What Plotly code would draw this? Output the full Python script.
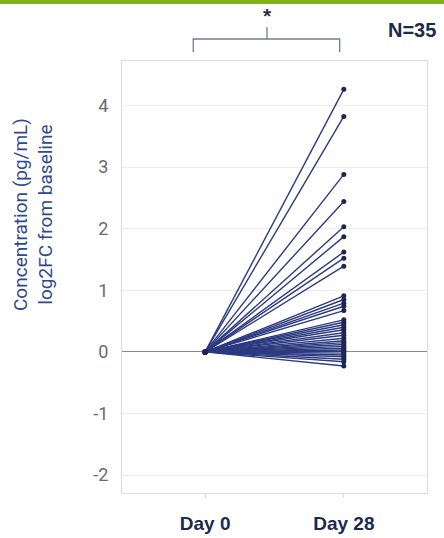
import plotly.graph_objects as go

# Timepoints and per-subject log2 fold change from baseline (Day 0 = 0)
timepoints = ["Day 0", "Day 28"]
day0_values = [0.0] * 35
day28_values = [4.26, 3.82, 2.88, 2.44, 2.03, 1.87, 1.62, 1.52, 1.39,
                0.91, 0.85, 0.79, 0.74, 0.67, 0.52, 0.48, 0.44, 0.40,
                0.36, 0.31, 0.27, 0.22, 0.18, 0.15, 0.12, 0.09, 0.06,
                0.03, 0.01, -0.02, -0.05, -0.08, -0.12, -0.16, -0.23]
y_ticks = [-2, -1, 0, 1, 2, 3, 4]
y_tick_labels = ["-2", "-1", "0", "1", "2", "3", "4"]
n_label = "N=35"

# Build one connected segment per subject, separated by gaps
xs, ys = [], []
for a, b in zip(day0_values, day28_values):
    xs += [timepoints[0], timepoints[1], None]
    ys += [a, b, None]

fig = go.Figure()
fig.add_trace(go.Scatter(
    x=xs, y=ys, mode="lines+markers",
    line=dict(color="#2c3a80", width=1.4),
    marker=dict(color="#1f2550", size=5),
    connectgaps=False, showlegend=False, hoverinfo="skip",
))

W, H = 444, 538
ml, mr, mt, mb = 122, 17, 61, 45
pw, ph = W - ml - mr, H - mt - mb

def px_to_paper_x(px):
    return (px - ml) / pw

def px_to_paper_y(py):
    return (H - mb - py) / ph

fig.update_layout(
    width=W, height=H,
    margin=dict(l=ml, r=mr, t=mt, b=mb, autoexpand=False),
    plot_bgcolor="white", paper_bgcolor="white",
    font=dict(family="Roboto, sans-serif"),
    xaxis=dict(
        type="category", categoryorder="array", categoryarray=timepoints,
        range=[-0.6, 1.6], showgrid=False, zeroline=False, automargin=False,
        showline=True, linecolor="#dcdcdc", linewidth=1, mirror=True,
        ticks="outside", ticklen=4, tickcolor="#dcdcdc",
        tickfont=dict(family="Liberation Sans, Arial, sans-serif",
                      size=19, color="#1b2a4e", weight="bold"),
        ticklabelstandoff=9,
    ),
    yaxis=dict(
        range=[-2.29, 4.72], tickvals=y_ticks, ticktext=y_tick_labels,
        automargin=False,
        showgrid=True, gridcolor="#ececec", gridwidth=1,
        zeroline=True, zerolinecolor="#8a8a8a", zerolinewidth=1.2,
        showline=True, linecolor="#dcdcdc", linewidth=1, mirror=True,
        tickfont=dict(size=18, color="#6a6a6a"),
        ticklabelstandoff=9,
    ),
    shapes=[
        # green band across the top
        dict(type="rect", xref="paper", yref="paper",
             x0=px_to_paper_x(0), x1=px_to_paper_x(W),
             y0=px_to_paper_y(4), y1=px_to_paper_y(0),
             fillcolor="#7fb21c", line=dict(width=0), layer="above"),
        # significance bracket
        dict(type="path", xref="x", yref="paper",
             path=("M -0.086,{b} L -0.086,{m} L 0.446,{m} L 0.446,{t} "
                   "M 0.446,{m} L 0.97,{m} L 0.97,{b}").format(
                       b=px_to_paper_y(52), m=px_to_paper_y(39),
                       t=px_to_paper_y(27)),
             line=dict(color="#6f7d92", width=1.3)),
    ],
    annotations=[
        dict(text="*", x=0.446, xref="x", y=px_to_paper_y(15), yref="paper",
             xanchor="center", yanchor="middle",
             showarrow=False, font=dict(size=21, color="#2a3140",
                                         family="Liberation Sans, Arial",
                                         weight="bold")),
        dict(text=n_label, x=px_to_paper_x(412), y=px_to_paper_y(30),
             xref="paper", yref="paper", showarrow=False,
             xanchor="center", yanchor="middle",
             font=dict(family="Liberation Sans, Arial, sans-serif",
                       size=20, color="#1b2a4e", weight="bold")),
        dict(text="Concentration (pg/mL)<br>log2FC from baseline",
             x=px_to_paper_x(33), y=px_to_paper_y(215),
             xref="paper", yref="paper", showarrow=False, textangle=-90,
             xanchor="center", yanchor="middle",
             font=dict(size=19, color="#2f4a8c")),
    ],
)

fig.write_html("out.html")
